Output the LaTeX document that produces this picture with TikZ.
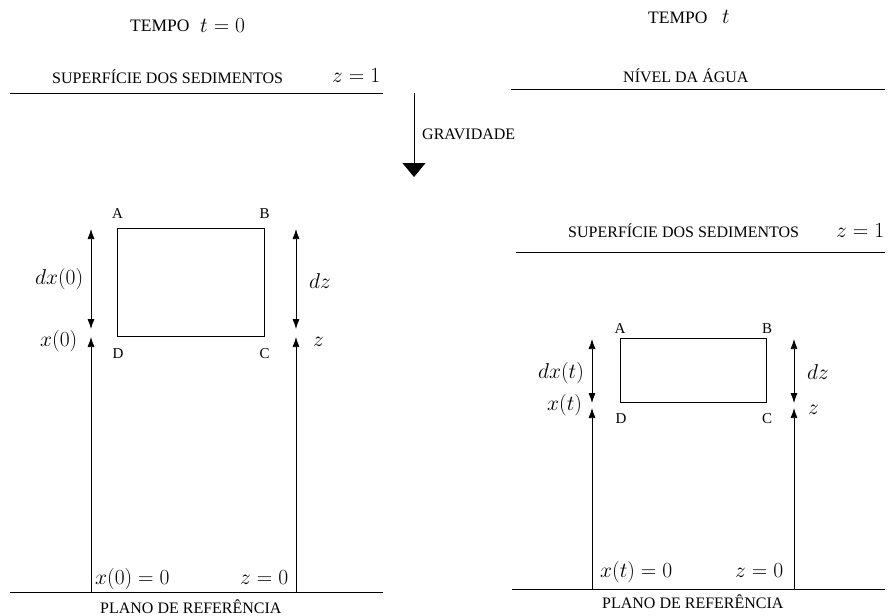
\RequirePackage{fix-cm}
\documentclass[tikz,border=0pt]{standalone}
\usepackage{fontspec}
\setmainfont{Liberation Serif}
\usetikzlibrary{arrows.meta}
\begin{document}
\begin{tikzpicture}[x=1pt,y=-1pt,
  txt/.style={inner sep=0pt, anchor=base west, font=\fontsize{16}{19}\selectfont},
  tempo/.style={inner sep=0pt, anchor=base west, font=\fontsize{17.5}{20}\selectfont},
  mth/.style={inner sep=0pt, anchor=base west, font=\fontsize{21.5}{26}\selectfont},
  corner/.style={inner sep=0pt, anchor=base, font=\fontsize{15}{18}\selectfont},
  ln/.style={line width=0.8pt},
  dbl/.style={line width=0.75pt, {Latex[length=10pt,width=7pt]}-{Latex[length=10pt,width=7pt]}},
  upar/.style={line width=0.75pt, -{Latex[length=10pt,width=7pt]}}]
\useasboundingbox (0,0) rectangle (890,615);
% ---------------- left: t = 0 ----------------
\node[tempo] (tempoL) at (130,32) {TEMPO};
\node[mth] (tL) at (200,33) {$t=0$};
\node[txt] (supL) at (52,84) {SUPERFÍCIE DOS SEDIMENTOS};
\node[mth] (z1L) at (332,83) {$z=1$};
\coordinate (sL1) at (10,93); \coordinate (sL2) at (383,93);
\draw[ln] (sL1) -- (sL2);
% gravity
\coordinate (g1) at (414,93); \coordinate (g2) at (414,177);
\draw[line width=0.75pt, -{Triangle[length=14pt,width=23pt]}] (g1) -- (g2);
\node[txt] (grav) at (422,139) {GRAVIDADE};
% box
\node[draw, line width=0.75pt, inner sep=0pt, minimum width=147pt, minimum height=108pt, anchor=north west] (boxL) at (117,228) {};
\node[corner] (AL) at (117.5,218) {$\mathrm{A}$};
\node[corner] (BL) at (264.5,218) {$\mathrm{B}$};
\node[corner] (DL) at (118,358) {$\mathrm{D}$};
\node[corner] (CL) at (264.5,358) {$\mathrm{C}$};
% left arrows
\coordinate (la1) at (91,229); \coordinate (la2) at (91,329);
\coordinate (la3) at (91,592); \coordinate (la4) at (91,337);
\draw[dbl] (la1) -- (la2);
\draw[upar] (la3) -- (la4);
\node[mth] (dx0) at (35,284) {$dx(0)$};
\node[mth] (x0) at (40,346) {$x(0)$};
% right arrows
\coordinate (ra1) at (296,229); \coordinate (ra2) at (296,329);
\coordinate (ra3) at (296,592); \coordinate (ra4) at (296,337);
\draw[dbl] (ra1) -- (ra2);
\draw[upar] (ra3) -- (ra4);
\node[mth] (dzL) at (309,288) {$dz$};
\node[mth] (zL) at (313,346) {$z$};
% bottom
\coordinate (bL1) at (10,592); \coordinate (bL2) at (383,592);
\draw[ln] (bL1) -- (bL2);
\node[mth] (x00) at (95,584) {$x(0)=0$};
\node[mth] (z0L) at (240,584) {$z=0$};
\node[txt] (planoL) at (100,613) {PLANO DE REFERÊNCIA};
% ---------------- right: t ----------------
\node[tempo] (tempoR) at (648,24) {TEMPO};
\node[mth] (tR) at (722,24) {$t$};
\node[txt] (nivel) at (623,83) {NÍVEL DA ÁGUA};
\coordinate (nR1) at (511,89); \coordinate (nR2) at (885,89);
\draw[ln] (nR1) -- (nR2);
\node[txt] (supR) at (568,237) {SUPERFÍCIE DOS SEDIMENTOS};
\node[mth] (z1R) at (836,237) {$z=1$};
\coordinate (sR1) at (516,252); \coordinate (sR2) at (885,252);
\draw[ln] (sR1) -- (sR2);
% box
\node[draw, line width=0.75pt, inner sep=0pt, minimum width=146pt, minimum height=64pt, anchor=north west] (boxR) at (620,338) {};
\node[corner] (AR) at (620,333) {$\mathrm{A}$};
\node[corner] (BR) at (767,333) {$\mathrm{B}$};
\node[corner] (DR) at (621,423) {$\mathrm{D}$};
\node[corner] (CR) at (767,423) {$\mathrm{C}$};
% arrows
\coordinate (lb1) at (592,339); \coordinate (lb2) at (592,403);
\coordinate (lb3) at (592,589); \coordinate (lb4) at (592,408);
\draw[dbl] (lb1) -- (lb2);
\draw[upar] (lb3) -- (lb4);
\node[mth] (dxt) at (538,378) {$dx(t)$};
\node[mth] (xt) at (547,410) {$x(t)$};
\coordinate (rb1) at (794,339); \coordinate (rb2) at (794,403);
\coordinate (rb3) at (794,589); \coordinate (rb4) at (794,408);
\draw[dbl] (rb1) -- (rb2);
\draw[upar] (rb3) -- (rb4);
\node[mth] (dzR) at (807,379) {$dz$};
\node[mth] (zR) at (808,414) {$z$};
% bottom
\coordinate (bR1) at (512,589); \coordinate (bR2) at (885,589);
\draw[ln] (bR1) -- (bR2);
\node[mth] (xt0) at (600,577) {$x(t)=0$};
\node[mth] (z0R) at (735,577) {$z=0$};
\node[txt] (planoR) at (602,608) {PLANO DE REFERÊNCIA};
\end{tikzpicture}
\end{document}
